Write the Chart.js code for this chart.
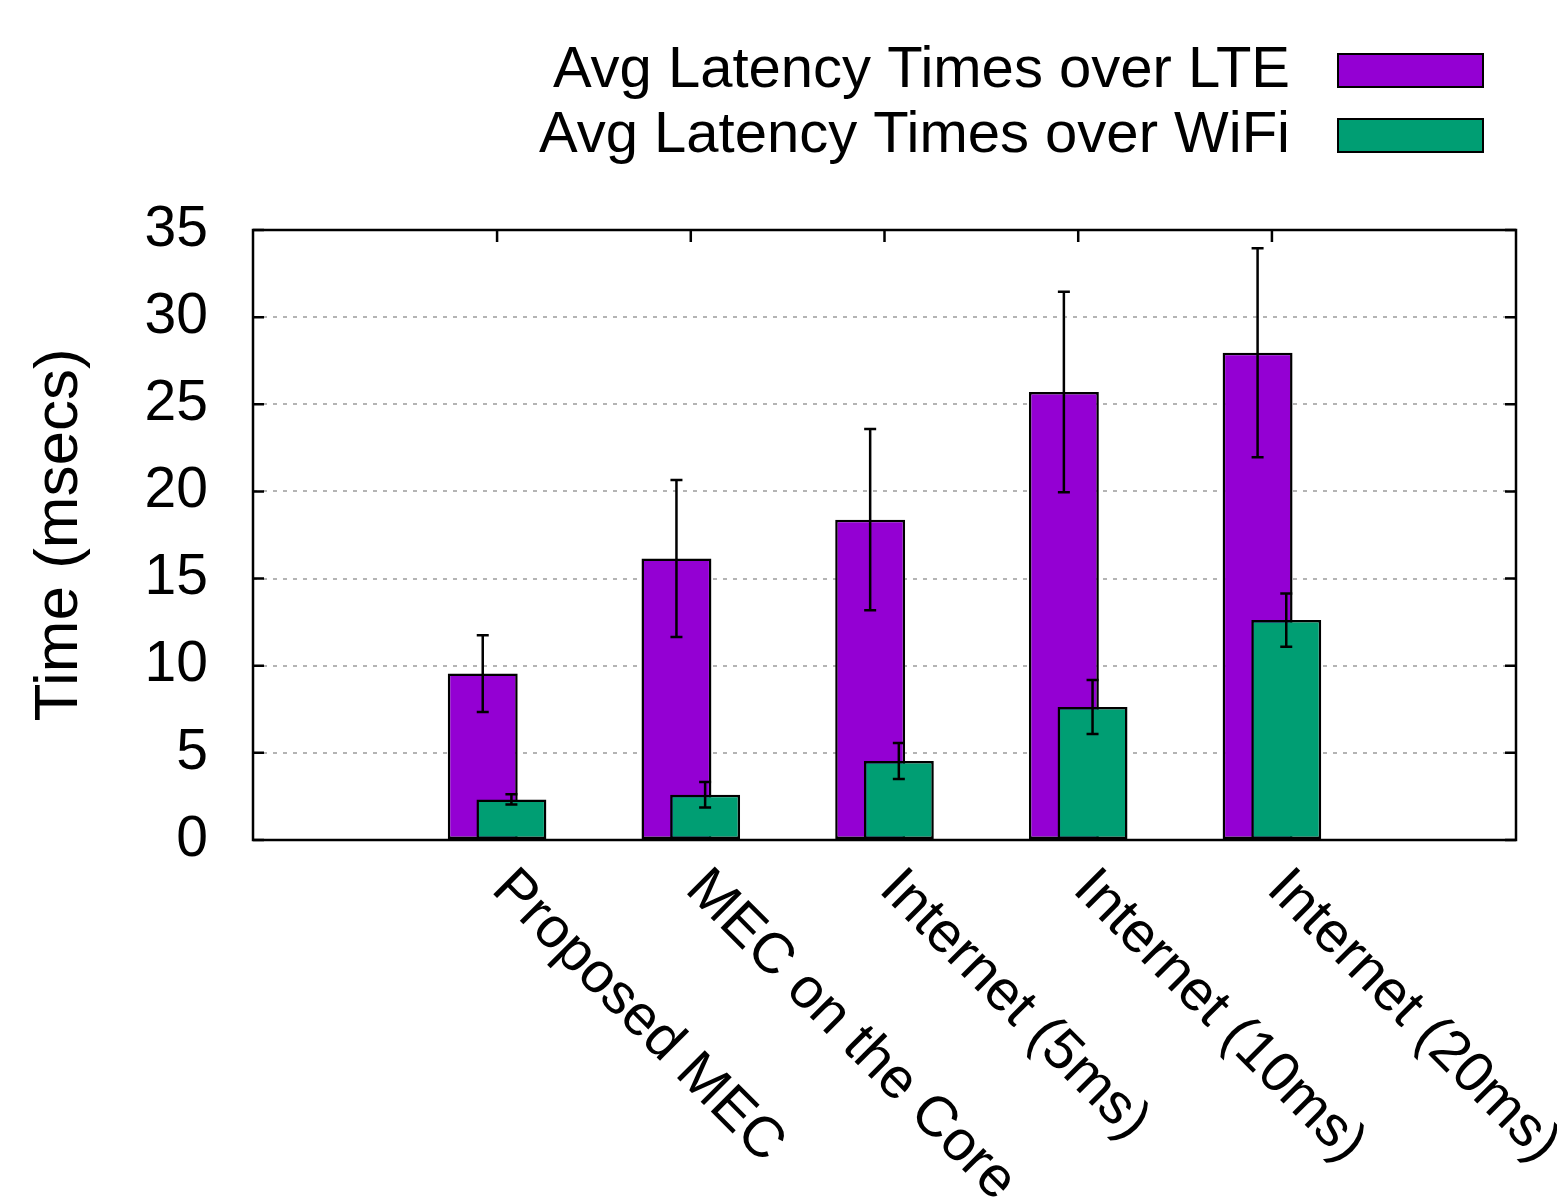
<!DOCTYPE html>
<html>
<head>
<meta charset="utf-8">
<script src="https://cdn.jsdelivr.net/npm/chart.js@4.4.0/dist/chart.umd.min.js"></script>
<style>
  html, body { margin: 0; padding: 0; background: #fff; }
  #wrap { width: 1557px; height: 1197px; position: relative; }
</style>
</head>
<body>
<div id="wrap"><canvas id="latencyChart"></canvas></div>
<script>
const categories = ['Proposed MEC', 'MEC on the Core', 'Internet (5ms)', 'Internet (10ms)', 'Internet (20ms)'];
const lteLatency = [9.55, 16.15, 18.38, 25.71, 27.96];
const lteError = [2.2, 4.5, 5.2, 5.75, 6.0];
const wifiLatency = [2.33, 2.6, 4.53, 7.63, 12.62];
const wifiError = [0.29, 0.73, 1.03, 1.55, 1.53];
const seriesLabels = ['Avg Latency Times over LTE', 'Avg Latency Times over WiFi'];

// gnuplot-ish histogram: bars of one cluster overlap a bit
const BAR_SHIFT = 0.074;
const BAR_WIDTH = 0.361;
const FONT = "'Liberation Sans', Arial, sans-serif";

function toPoints(values, shift) {
    return values.map(function (v, i) { return { x: i + shift, y: v }; });
}

// error bars, drawn on top of the bars
const errorBars = {
    id: 'errorBars',
    afterDatasetsDraw: function (chart) {
        const ctx = chart.ctx;
        const yScale = chart.scales.y;
        chart.data.datasets.forEach(function (ds, di) {
            const meta = chart.getDatasetMeta(di);
            meta.data.forEach(function (bar, i) {
                const v = ds.data[i].y;
                const e = ds.errors[i];
                const top = yScale.getPixelForValue(v + e);
                const bot = yScale.getPixelForValue(v - e);
                ctx.save();
                ctx.strokeStyle = '#000';
                ctx.lineWidth = 2.5;
                ctx.beginPath();
                ctx.moveTo(bar.x, top);
                ctx.lineTo(bar.x, bot);
                ctx.moveTo(bar.x - 6, top);
                ctx.lineTo(bar.x + 6, top);
                ctx.moveTo(bar.x - 6, bot);
                ctx.lineTo(bar.x + 6, bot);
                ctx.stroke();
                ctx.restore();
            });
        });
    }
};

// frame with inward ticks, rotated category labels and the key
const gnuplotFrame = {
    id: 'gnuplotFrame',
    afterDraw: function (chart) {
        const ctx = chart.ctx;
        const area = chart.chartArea;
        const xScale = chart.scales.x;
        const yScale = chart.scales.y;
        ctx.save();
        ctx.strokeStyle = '#000';
        ctx.lineWidth = 2.5;
        ctx.strokeRect(area.left, area.top, area.right - area.left, area.bottom - area.top);

        ctx.beginPath();
        yScale.ticks.forEach(function (t) {
            const py = yScale.getPixelForValue(t.value);
            ctx.moveTo(area.left, py);
            ctx.lineTo(area.left + 11, py);
            ctx.moveTo(area.right, py);
            ctx.lineTo(area.right - 11, py);
        });
        categories.forEach(function (c, i) {
            const px = xScale.getPixelForValue(i);
            ctx.moveTo(px, area.top);
            ctx.lineTo(px, area.top + 12);
        });
        ctx.stroke();

        // category labels, rotated -45 like gnuplot
        ctx.fillStyle = '#000';
        ctx.font = '57px ' + FONT;
        ctx.textAlign = 'left';
        ctx.textBaseline = 'alphabetic';
        categories.forEach(function (c, i) {
            const px = xScale.getPixelForValue(i);
            ctx.save();
            ctx.translate(px - 7, area.bottom + 51);
            ctx.rotate(Math.PI / 4);
            ctx.fillText(c, 0, 0);
            ctx.restore();
        });

        // key, top right: text then sample box
        ctx.font = '58px ' + FONT;
        ctx.textAlign = 'right';
        ctx.lineWidth = 2;
        chart.data.datasets.forEach(function (ds, di) {
            const base = 87 + di * 65;
            ctx.fillStyle = '#000';
            ctx.fillText(ds.label, area.right - 226, base);
            ctx.fillStyle = ds.backgroundColor;
            ctx.fillRect(area.right - 178, base - 33, 145, 33);
            ctx.strokeRect(area.right - 178, base - 33, 145, 33);
        });
        ctx.restore();
    }
};

const chartElement = document.getElementById('latencyChart').getContext('2d');
const chartObject = new Chart(chartElement, {
    type: 'bar',
    data: {
        datasets: [{
            label: seriesLabels[0],
            data: toPoints(lteLatency, -BAR_SHIFT),
            errors: lteError,
            backgroundColor: '#9400d3',
            borderColor: '#000',
            borderWidth: 2.5,
            borderSkipped: false,
            order: 1
        }, {
            label: seriesLabels[1],
            data: toPoints(wifiLatency, BAR_SHIFT),
            errors: wifiError,
            backgroundColor: '#009e73',
            borderColor: '#000',
            borderWidth: 2.5,
            borderSkipped: false,
            order: 0
        }]
    },
    options: {
        responsive: true,
        maintainAspectRatio: false,
        animation: false,
        grouped: false,
        categoryPercentage: 1,
        barPercentage: BAR_WIDTH / (2 * BAR_SHIFT),
        layout: { padding: { top: 230, right: 41, left: 0, bottom: 0 } },
        plugins: {
            legend: { display: false },
            tooltip: { enabled: false }
        },
        scales: {
            x: {
                type: 'linear',
                min: -1.26,
                max: 5.26,
                offset: false,
                afterBuildTicks: function (scale) {
                    scale.ticks = categories.map(function (c, i) { return { value: i }; });
                },
                afterFit: function (scale) { scale.height = 357; },
                ticks: { display: false },
                grid: { display: false, offset: false },
                border: { display: false }
            },
            y: {
                min: 0,
                max: 35,
                afterFit: function (scale) { scale.width = 253; },
                ticks: {
                    stepSize: 5,
                    padding: 45,
                    color: '#000',
                    font: { family: FONT, size: 57 }
                },
                grid: {
                    drawTicks: false,
                    lineWidth: 2,
                    color: function (c) {
                        return (c.tick && (c.tick.value === 0 || c.tick.value === 35)) ? 'rgba(0,0,0,0)' : '#b4b4b4';
                    }
                },
                border: { display: false, dash: [4, 6] },
                title: {
                    display: true,
                    text: 'Time (msecs)',
                    color: '#000',
                    font: { family: FONT, size: 62 },
                    padding: { top: 23, bottom: 0 }
                }
            }
        }
    },
    plugins: [errorBars, gnuplotFrame]
});
</script>
</body>
</html>
